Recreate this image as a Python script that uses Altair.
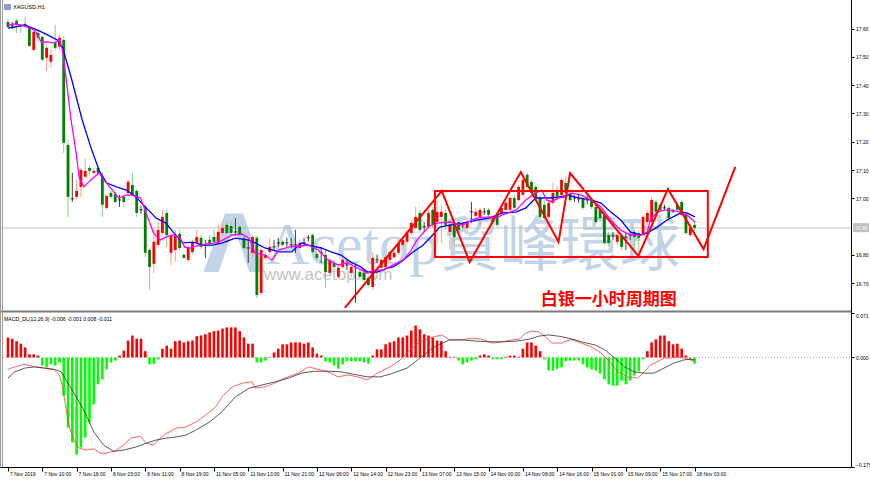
import altair as alt
import pandas as pd
import numpy as np

# ---------------- data ----------------
opens = [17.624, 17.610, 17.628, 17.614, 17.617, 17.603, 17.525, 17.585, 17.571, 17.497,
         17.483, 17.550, 17.536, 17.560, 17.189, 16.998, 17.005, 17.040, 17.076, 17.107,
         17.090, 17.107, 17.076, 16.966, 17.019, 17.015, 16.994, 17.005, 17.019, 17.047,
         17.026, 16.959, 16.969, 16.817, 16.768, 16.835, 16.877, 16.948, 16.807, 16.817,
         16.874, 16.800, 16.782, 16.810, 16.842, 16.860, 16.835, 16.853, 16.863, 16.842,
         16.877, 16.906, 16.902, 16.881, 16.899, 16.860, 16.824, 16.807, 16.860, 16.665,
         16.789, 16.810, 16.828, 16.842, 16.846, 16.842, 16.835, 16.835, 16.824, 16.842,
         16.860, 16.870, 16.803, 16.807, 16.800, 16.736, 16.771, 16.722, 16.757, 16.764,
         16.736, 16.754, 16.739, 16.736, 16.718, 16.686, 16.782, 16.754, 16.757, 16.782,
         16.792, 16.807, 16.835, 16.846, 16.877, 16.895, 16.948, 16.899, 16.899, 16.959,
         16.916, 16.934, 16.948, 16.881, 16.906, 16.916, 16.906, 16.895, 16.952, 16.938,
         16.934, 16.952, 16.959, 16.916, 16.941, 16.948, 16.959, 16.959, 17.001, 16.994,
         17.012, 17.083, 17.058, 17.040, 17.001, 16.977, 16.934, 16.984, 17.030, 17.012,
         17.054, 17.019, 17.001, 16.998, 17.001, 16.994, 16.994, 16.969, 16.959, 16.941,
         16.870, 16.867, 16.846, 16.867, 16.863, 16.870, 16.881, 16.877, 16.870, 16.916,
         16.916, 16.987, 16.977, 16.966, 16.966, 16.955, 16.977, 16.987, 16.941, 16.870,
         16.906]
highs = [17.635, 17.624, 17.635, 17.617, 17.642, 17.606, 17.592, 17.596, 17.575, 17.539,
         17.525, 17.614, 17.578, 17.575, 17.207, 17.090, 17.065, 17.107, 17.139, 17.118,
         17.107, 17.118, 17.093, 17.015, 17.030, 17.022, 17.012, 17.012, 17.065, 17.090,
         17.033, 16.973, 16.977, 16.824, 16.899, 16.916, 16.959, 16.959, 16.881, 16.888,
         16.888, 16.803, 16.831, 16.853, 16.888, 16.870, 16.853, 16.870, 16.888, 16.906,
         16.916, 16.916, 16.916, 16.930, 16.906, 16.867, 16.853, 16.870, 16.867, 16.828,
         16.810, 16.860, 16.853, 16.860, 16.853, 16.860, 16.860, 16.888, 16.853, 16.860,
         16.870, 16.877, 16.810, 16.828, 16.817, 16.789, 16.782, 16.764, 16.792, 16.782,
         16.764, 16.764, 16.746, 16.746, 16.725, 16.810, 16.800, 16.789, 16.800, 16.817,
         16.824, 16.853, 16.863, 16.888, 16.923, 16.969, 16.959, 16.916, 16.959, 16.969,
         16.994, 16.977, 16.959, 16.923, 16.916, 16.923, 16.916, 16.930, 16.987, 16.966,
         16.966, 16.966, 16.966, 16.941, 16.952, 16.977, 16.994, 17.008, 17.012, 17.047,
         17.083, 17.090, 17.065, 17.047, 17.012, 16.994, 16.994, 17.054, 17.044, 17.072,
         17.076, 17.030, 17.012, 17.012, 17.008, 17.008, 17.001, 16.977, 16.966, 16.948,
         16.881, 16.881, 16.881, 16.877, 16.877, 16.881, 16.888, 16.888, 16.941, 16.959,
         17.005, 16.994, 16.984, 16.977, 16.973, 16.962, 16.984, 16.994, 16.952, 16.909,
         16.916]
lows = [17.603, 17.599, 17.585, 17.585, 17.606, 17.536, 17.522, 17.553, 17.486, 17.451,
        17.461, 17.525, 17.525, 17.161, 16.934, 16.987, 16.994, 17.005, 17.072, 17.083,
        17.083, 17.083, 16.934, 16.959, 16.998, 16.984, 16.969, 16.969, 17.012, 17.008,
        16.934, 16.945, 16.792, 16.676, 16.736, 16.824, 16.870, 16.828, 16.764, 16.775,
        16.817, 16.785, 16.775, 16.803, 16.835, 16.821, 16.789, 16.831, 16.838, 16.835,
        16.870, 16.870, 16.870, 16.867, 16.863, 16.817, 16.771, 16.789, 16.647, 16.658,
        16.782, 16.803, 16.817, 16.828, 16.828, 16.828, 16.824, 16.807, 16.817, 16.831,
        16.846, 16.803, 16.782, 16.771, 16.683, 16.729, 16.746, 16.715, 16.750, 16.746,
        16.718, 16.630, 16.715, 16.704, 16.686, 16.676, 16.771, 16.746, 16.750, 16.775,
        16.785, 16.800, 16.828, 16.838, 16.870, 16.888, 16.881, 16.881, 16.892, 16.895,
        16.835, 16.842, 16.888, 16.817, 16.842, 16.881, 16.895, 16.888, 16.913, 16.930,
        16.899, 16.941, 16.934, 16.909, 16.899, 16.941, 16.952, 16.952, 16.959, 16.987,
        17.005, 17.033, 17.012, 16.994, 16.923, 16.923, 16.927, 16.973, 16.994, 17.005,
        17.012, 16.987, 16.987, 16.984, 16.959, 16.980, 16.962, 16.909, 16.916, 16.835,
        16.831, 16.853, 16.835, 16.817, 16.817, 16.853, 16.817, 16.810, 16.863, 16.906,
        16.909, 16.945, 16.952, 16.959, 16.923, 16.948, 16.952, 16.934, 16.870, 16.863,
        16.870]
closes = [17.606, 17.610, 17.614, 17.610, 17.610, 17.539, 17.589, 17.568, 17.490, 17.532,
          17.507, 17.532, 17.568, 17.196, 17.005, 16.998, 17.026, 17.100, 17.097, 17.097,
          17.097, 17.090, 16.977, 17.008, 17.005, 16.987, 16.994, 16.987, 17.058, 17.012,
          16.948, 16.959, 16.807, 16.757, 16.846, 16.888, 16.934, 16.870, 16.870, 16.867,
          16.824, 16.789, 16.824, 16.842, 16.863, 16.828, 16.835, 16.838, 16.846, 16.881,
          16.895, 16.877, 16.877, 16.881, 16.870, 16.824, 16.824, 16.863, 16.658, 16.817,
          16.800, 16.828, 16.828, 16.842, 16.835, 16.842, 16.835, 16.835, 16.842, 16.842,
          16.860, 16.810, 16.789, 16.807, 16.739, 16.782, 16.757, 16.754, 16.782, 16.764,
          16.757, 16.754, 16.722, 16.711, 16.693, 16.789, 16.782, 16.782, 16.792, 16.810,
          16.807, 16.842, 16.853, 16.881, 16.913, 16.934, 16.888, 16.899, 16.948, 16.906,
          16.952, 16.952, 16.906, 16.906, 16.863, 16.888, 16.906, 16.916, 16.952, 16.952,
          16.959, 16.952, 16.941, 16.934, 16.906, 16.966, 16.984, 17.001, 16.966, 17.040,
          17.065, 17.040, 17.019, 17.001, 16.934, 16.930, 16.984, 17.019, 17.005, 17.065,
          17.019, 16.994, 17.001, 16.998, 16.966, 16.994, 16.969, 16.916, 16.930, 16.842,
          16.842, 16.867, 16.870, 16.828, 16.863, 16.870, 16.863, 16.860, 16.934, 16.948,
          16.994, 16.952, 16.959, 16.966, 16.930, 16.955, 16.959, 16.941, 16.877, 16.895,
          16.895]

macd_hist = [0.032, 0.030, 0.026, 0.022, 0.016, 0.005, 0.005, 0.003, -0.013, -0.016,
             -0.011, -0.013, -0.008, -0.061, -0.112, -0.136, -0.155, -0.144, -0.128, -0.104,
             -0.075, -0.043, -0.035, -0.019, -0.008, -0.005, 0.003, 0.011, 0.027, 0.035,
             0.030, 0.030, 0.010, -0.011, -0.010, -0.003, 0.014, 0.019, 0.014, 0.026,
             0.027, 0.024, 0.026, 0.027, 0.034, 0.035, 0.037, 0.040, 0.042, 0.043,
             0.046, 0.048, 0.048, 0.048, 0.042, 0.032, 0.022, 0.022, -0.008, -0.008,
             -0.005, 0.0005, 0.008, 0.014, 0.021, 0.021, 0.024, 0.024, 0.024, 0.022,
             0.024, 0.016, 0.006, 0.003, -0.006, -0.008, -0.013, -0.018, -0.011, -0.006,
             -0.006, -0.006, -0.006, -0.008, -0.010, 0.003, 0.013, 0.013, 0.021, 0.024,
             0.026, 0.032, 0.032, 0.035, 0.043, 0.051, 0.045, 0.037, 0.035, 0.032,
             0.027, 0.026, 0.010, 0.001, 0.001, -0.005, -0.011, -0.008, -0.005, -0.003,
             0.003, 0.005, 0.003, -0.003, -0.003, -0.003, 0.001, 0.003, 0.003, 0.001,
             0.014, 0.024, 0.024, 0.019, 0.010, -0.003, -0.021, -0.021, -0.018, -0.016,
             -0.006, -0.005, -0.005, -0.005, -0.011, -0.016, -0.019, -0.021, -0.026, -0.035,
             -0.043, -0.045, -0.045, -0.037, -0.043, -0.037, -0.029, -0.022, -0.003, 0.010,
             0.024, 0.029, 0.035, 0.035, 0.026, 0.021, 0.022, 0.014, 0.003, -0.003,
             -0.010]

ma_fast_idx = [0, 1.6, 3.2, 5.1, 6.2, 7.8, 9.2, 10.8, 12.0, 12.7, 13.6, 14.7, 15.9, 16.6, 17.7,
               19.3, 21.2, 22.3, 24.0, 25.8, 27.4, 28.8, 30.9, 32.2, 33.9, 35.5, 36.8, 38.5, 40.1,
               41.2, 42.4, 43.8, 46.1, 48.4, 50.0, 52.3, 54.6, 56.2, 57.6, 59.9, 61.5, 63.1, 65.4,
               67.7, 70.0, 72.3, 74.6, 76.9, 79.2, 81.5, 83.8, 85.2, 87.5, 89.8, 92.1, 93.7, 95.3,
               96.7, 98.3, 100.0, 102.9, 105.9, 109.2, 112.2, 113.8, 115.2, 118.4, 120.7, 123.0,
               124.4, 125.5, 126.7, 128.3, 129.9, 131.3, 133.6, 135.9, 138.2, 140.5, 142.8, 145.1,
               147.4, 149.0, 149.7, 151.3, 152.9, 154.3, 156.6, 158.2, 160.1]
ma_fast_val = [17.613, 17.617, 17.613, 17.602, 17.595, 17.553, 17.553, 17.549, 17.560, 17.525,
               17.418, 17.277, 17.160, 17.072, 17.040, 17.065, 17.090, 17.065, 17.036, 17.001,
               17.011, 17.011, 17.001, 16.948, 16.877, 16.852, 16.863, 16.870, 16.859, 16.827,
               16.824, 16.831, 16.838, 16.842, 16.852, 16.870, 16.873, 16.859, 16.806, 16.799,
               16.781, 16.817, 16.827, 16.831, 16.834, 16.817, 16.781, 16.764, 16.771, 16.753,
               16.735, 16.746, 16.746, 16.764, 16.781, 16.810, 16.852, 16.877, 16.902, 16.912,
               16.916, 16.905, 16.930, 16.934, 16.930, 16.941, 16.958, 16.994, 17.019, 17.029,
               16.994, 16.987, 17.001, 17.004, 17.019, 17.011, 16.994, 16.969, 16.923, 16.887,
               16.870, 16.870, 16.881, 16.923, 16.951, 16.958, 16.958, 16.951, 16.941, 16.916]

ma_slow_idx = [0, 1.6, 3.9, 6.9, 9.2, 11.5, 12.7, 14.7, 17.3, 19.3, 21.2, 23.0, 25.3, 27.6, 29.9,
               32.2, 34.5, 36.8, 38.5, 40.8, 43.1, 45.4, 47.7, 50.0, 53.0, 56.2, 57.6, 59.9, 63.1,
               66.1, 68.4, 70.0, 73.0, 75.3, 77.6, 79.9, 82.2, 83.8, 86.1, 88.4, 89.8, 92.1, 94.4,
               96.7, 99.0, 100.6, 102.9, 105.9, 109.2, 112.2, 115.2, 118.4, 120.7, 123.0, 126.0,
               128.3, 130.6, 132.9, 135.9, 138.2, 140.5, 142.8, 145.1, 147.4, 149.0, 151.3, 153.6,
               155.9, 157.1, 158.2, 160.1]
ma_slow_val = [17.602, 17.606, 17.613, 17.595, 17.578, 17.560, 17.535, 17.429, 17.277, 17.181,
               17.100, 17.054, 17.040, 17.029, 17.004, 16.966, 16.930, 16.912, 16.880, 16.842,
               16.845, 16.834, 16.834, 16.842, 16.859, 16.852, 16.842, 16.824, 16.810, 16.810,
               16.842, 16.834, 16.824, 16.810, 16.799, 16.774, 16.757, 16.739, 16.739, 16.753,
               16.757, 16.781, 16.810, 16.834, 16.870, 16.898, 16.905, 16.912, 16.923, 16.930,
               16.948, 16.951, 16.966, 17.001, 17.001, 17.004, 17.011, 17.001, 16.994, 16.983,
               16.951, 16.923, 16.880, 16.870, 16.877, 16.898, 16.923, 16.941, 16.951, 16.948,
               16.934]

macd_line_idx = [0, 1.6, 3.9, 6.2, 8.5, 10.8, 12.0, 12.7, 13.6, 14.3, 15.4, 16.6, 18.2, 20.0,
                 21.6, 23.0, 25.3, 26.9, 28.6, 30.9, 32.2, 33.9, 35.5, 36.8, 39.2, 41.5, 43.8,
                 46.1, 48.4, 50.0, 52.3, 54.6, 56.9, 57.6, 59.9, 62.2, 64.5, 67.7, 70.0, 72.3,
                 74.6, 76.9, 79.2, 81.5, 83.8, 86.1, 89.1, 91.4, 93.7, 96.0, 98.3, 101.1, 102.9,
                 105.9, 108.2, 110.5, 112.9, 115.2, 117.5, 119.1, 120.7, 122.1, 123.7, 125.3,
                 126.7, 129.0, 131.3, 133.6, 135.9, 138.2, 140.3, 142.1, 144.4, 146.7, 148.3,
                 149.7, 151.3, 152.9, 154.3, 155.9, 157.5, 158.7, 159.8]
macd_line_val = [-0.019, -0.015, -0.011, -0.015, -0.017, -0.020, -0.028, -0.047, -0.084, -0.111,
                 -0.132, -0.145, -0.148, -0.146, -0.153, -0.153, -0.148, -0.140, -0.129, -0.126,
                 -0.137, -0.140, -0.129, -0.122, -0.113, -0.111, -0.103, -0.092, -0.079, -0.062,
                 -0.047, -0.041, -0.039, -0.049, -0.047, -0.041, -0.033, -0.025, -0.015, -0.019,
                 -0.023, -0.031, -0.028, -0.031, -0.036, -0.025, -0.015, -0.004, 0.012, 0.025,
                 0.031, 0.036, 0.028, 0.028, 0.031, 0.029, 0.023, 0.025, 0.028, 0.029,
                 0.039, 0.042, 0.041, 0.033, 0.023, 0.023, 0.029, 0.023, 0.017, 0.007,
                 -0.007, -0.023, -0.031, -0.033, -0.023, -0.012, -0.007, -0.001, -0.001, 0.001,
                 -0.001, -0.003, -0.006]

signal_idx = [0, 1.6, 3.9, 6.2, 8.5, 10.8, 12.4, 13.8, 15.4, 17.7, 20.0, 22.3, 24.6, 26.9, 29.9,
              32.2, 34.5, 36.8, 39.2, 41.5, 43.8, 47.0, 50.0, 53.0, 56.2, 59.2, 62.2, 65.4, 68.4,
              71.4, 74.6, 77.6, 80.6, 83.8, 86.8, 89.8, 93.0, 96.0, 99.0, 100.6, 102.9, 105.9,
              109.2, 112.2, 115.2, 118.4, 121.4, 123.7, 126.0, 128.3, 130.6, 133.6, 136.8, 139.1,
              141.4, 143.7, 146.0, 148.3, 150.6, 152.9, 155.2, 157.5, 158.9, 160.1]
signal_val = [-0.033, -0.023, -0.017, -0.015, -0.017, -0.019, -0.023, -0.039, -0.057, -0.084,
              -0.119, -0.140, -0.150, -0.148, -0.143, -0.137, -0.132, -0.129, -0.127, -0.124,
              -0.116, -0.103, -0.086, -0.063, -0.049, -0.044, -0.039, -0.033, -0.025, -0.022,
              -0.022, -0.023, -0.027, -0.031, -0.031, -0.025, -0.017, -0.001, 0.015, 0.021,
              0.028, 0.028, 0.026, 0.025, 0.025, 0.026, 0.029, 0.034, 0.036, 0.034,
              0.031, 0.025, 0.020, 0.012, -0.001, -0.015, -0.023, -0.025, -0.025, -0.017,
              -0.009, -0.004, -0.003, -0.004]

x_tick_idx = list(range(0, 161, 8))
x_tick_labels = ["7 Nov 2019", "7 Nov 10:00", "7 Nov 18:00", "8 Nov 03:00", "8 Nov 11:00",
                 "8 Nov 19:00", "11 Nov 05:00", "11 Nov 13:00", "11 Nov 21:00", "12 Nov 06:00",
                 "12 Nov 14:00", "12 Nov 23:00", "13 Nov 07:00", "13 Nov 15:00", "14 Nov 00:00",
                 "14 Nov 08:00", "14 Nov 16:00", "15 Nov 01:00", "15 Nov 09:00", "15 Nov 17:00",
                 "18 Nov 03:00"]
price_ticks = [16.7, 16.8, 17.0, 17.1, 17.2, 17.3, 17.4, 17.5, 17.6]
macd_ticks = [-0.175, 0.0, 0.071]
current_price = [16.895]
current_box = [16.880, 16.912]

zigzag_idx = [78.5, 101.1, 107.6, 119.5, 128.3, 131.0, 146.9, 153.8, 162.1, 169.5]
zigzag_price = [16.612, 17.026, 16.774, 17.093, 16.845, 17.089, 16.796, 17.033, 16.820, 17.111]
box_idx = [99.5, 163.1]
box_price = [16.792, 17.026]
note_text = ["白银一小时周期图"]
note_idx = [140.0]
note_price = [16.64]

symbol_title = "XAGUSD,H1"
macd_title = "MACD_DL(12,26,9) -0.006 -0.001 0.008 -0.011"

# ---------------- scales ----------------
W, H = 851, 467
XS = alt.Scale(domain=[-0.69, 195.3], range=[0, W], nice=False, zero=False)
PY = alt.Scale(domain=[16.60, 17.70], range=[311.3, 0.44], nice=False, zero=False)
MY = alt.Scale(domain=[-0.175, 0.071], range=[467, 313], nice=False, zero=False)

FONT = "Liberation Sans"
lab_js = "[" + ",".join("'" + s + "'" for s in x_tick_labels) + "]"
idx_js = "[" + ",".join(str(v) for v in x_tick_idx) + "]"
x_axis = alt.Axis(values=x_tick_idx, labelExpr=lab_js + "[indexof(" + idx_js + ", datum.value)]",
                  labelAlign="left", labelBaseline="top", labelOffset=1.5, labelPadding=0.5,
                  tickSize=4, tickColor="#000000", domainColor="#000000", grid=False,
                  labelFontSize=5, labelFont=FONT, labelColor="#000000", title=None,
                  labelOverlap=False, labelBound=False, labelFlush=False)


def X(field):
    return alt.X(field, type="quantitative", scale=XS, axis=x_axis)


main_axis = alt.Axis(orient="right", values=price_ticks, format=".2f", domain=False, grid=False,
                     tickSize=3, tickColor="#000000", labelPadding=1.5, labelFontSize=5,
                     labelFont=FONT, labelColor="#000000", title=None)
macd_axis = alt.Axis(orient="right", values=macd_ticks, format=".3f", domain=False, grid=False,
                     tickSize=3, tickColor="#000000", labelPadding=1.5, labelFontSize=5,
                     labelFont=FONT, labelColor="#000000", title=None, labelFlush=True)

n = len(closes)
df = pd.DataFrame({"i": np.arange(n), "o": opens[:n], "h": highs[:n], "l": lows[:n], "c": closes[:n]})
df["dir"] = np.where(df.c > df.o, "up", np.where(df.c < df.o, "down", "doji"))

hist = pd.DataFrame({"i": np.arange(len(macd_hist)), "v": macd_hist, "z": 0.0})
hist["dir"] = np.where(hist.v >= 0, "pos", "neg")

one = pd.DataFrame({"a": [0]})
WM = "#c2d4e7"

# ---------------- layers ----------------
wm_logo = alt.Chart(one).mark_text(text="Λ", font="DejaVu Sans", fontWeight="bold", fontSize=80,
                                   color=WM, align="center", baseline="alphabetic").encode(
    x=alt.value(234), y=alt.value(272))
wm_latin = alt.Chart(one).mark_text(text="Acetop", font="Liberation Serif", fontSize=60,
                                    color=WM, align="left", baseline="alphabetic").encode(
    x=alt.value(266), y=alt.value(264))
wm_cjk = alt.Chart(one).mark_text(text="貿峰環球", font="Noto Sans CJK TC", fontSize=60,
                                  color=WM, align="left", baseline="alphabetic").encode(
    x=alt.value(440), y=alt.value(266))
wm_url = alt.Chart(one).mark_text(text="www.acetop.com", font=FONT, fontSize=17,
                                  color="#c4c4c4", align="left", baseline="alphabetic").encode(
    x=alt.value(264), y=alt.value(280))

price_line = alt.Chart(pd.DataFrame({"p": current_price})).mark_rule(
    color="#c0c0c0", strokeWidth=1).encode(
    x=alt.value(0), x2=alt.value(W), y=alt.Y("p:Q", scale=PY, axis=None))

wicks = alt.Chart(df).mark_rule(strokeWidth=1).encode(
    x=X("i"), y=alt.Y("l:Q", scale=PY, axis=main_axis), y2="h:Q",
    color=alt.Color("dir:N", scale=alt.Scale(domain=["up", "down", "doji"],
                                             range=["#ff9f8c", "#8ccc8c", "#404040"]), legend=None))
bodies = alt.Chart(df).transform_filter("datum.dir != 'doji'").mark_bar(size=2.8).encode(
    x=X("i"), y=alt.Y("o:Q", scale=PY, axis=None), y2="c:Q",
    color=alt.Color("dir:N", scale=alt.Scale(domain=["up", "down"],
                                             range=["#ff0000", "#008000"]), legend=None))
dojis = alt.Chart(df).transform_filter("datum.dir == 'doji'").mark_tick(
    orient="horizontal", size=3.5, thickness=1, color="#000000").encode(
    x=X("i"), y=alt.Y("o:Q", scale=PY, axis=None))

ma_slow = alt.Chart(pd.DataFrame({"i": ma_slow_idx, "v": ma_slow_val})).mark_line(
    color="#0000ff", strokeWidth=1.3).encode(x=X("i"), y=alt.Y("v:Q", scale=PY, axis=None))
ma_fast = alt.Chart(pd.DataFrame({"i": ma_fast_idx, "v": ma_fast_val})).mark_line(
    color="#ff00ff", strokeWidth=1.3).encode(x=X("i"), y=alt.Y("v:Q", scale=PY, axis=None))

zz = pd.DataFrame({"i": zigzag_idx, "p": zigzag_price, "k": np.arange(len(zigzag_idx))})
zigzag = alt.Chart(zz).mark_line(color="#ff0000", strokeWidth=2).encode(
    x=X("i"), y=alt.Y("p:Q", scale=PY, axis=None), order="k:Q")
box = alt.Chart(pd.DataFrame({"x1": [box_idx[0]], "x2": [box_idx[1]],
                              "y1": [box_price[0]], "y2": [box_price[1]]})).mark_rect(
    fillOpacity=0, stroke="#ff0000", strokeWidth=2).encode(
    x=X("x1"), x2="x2:Q", y=alt.Y("y1:Q", scale=PY, axis=None), y2="y2:Q")
note = alt.Chart(pd.DataFrame({"i": note_idx, "p": note_price, "t": note_text})).mark_text(
    font="Noto Sans CJK SC", fontWeight="bold", fontSize=17, color="#ff0000",
    align="center", baseline="middle").encode(
    x=X("i"), y=alt.Y("p:Q", scale=PY, axis=None), text="t:N")

price_box = alt.Chart(pd.DataFrame({"a": [current_box[0]], "b": [current_box[1]]})).mark_rect(
    color="#c0c0c0").encode(x=alt.value(853), x2=alt.value(869),
                            y=alt.Y("a:Q", scale=PY, axis=None), y2="b:Q")
price_box_t = alt.Chart(pd.DataFrame({"p": current_price, "t": ["16.89"]})).mark_text(
    font=FONT, fontSize=5, color="#f4f4f4", align="left", baseline="middle").encode(
    x=alt.value(855), y=alt.Y("p:Q", scale=PY, axis=None), text="t:N")

zero_line = alt.Chart(pd.DataFrame({"v": [0.0]})).mark_rule(
    color="#a8a8a8", strokeWidth=1, strokeDash=[1, 2]).encode(
    x=alt.value(0), x2=alt.value(W), y=alt.Y("v:Q", scale=MY, axis=None))
hbars = alt.Chart(hist).mark_bar(size=2.6).encode(
    x=X("i"), y=alt.Y("v:Q", scale=MY, axis=macd_axis), y2="z:Q",
    color=alt.Color("dir:N", scale=alt.Scale(domain=["pos", "neg"],
                                             range=["#ff0000", "#00ff00"]), legend=None))
macd_l = alt.Chart(pd.DataFrame({"i": macd_line_idx, "v": macd_line_val})).mark_line(
    color="#ff3c3c", strokeWidth=0.8).encode(x=X("i"), y=alt.Y("v:Q", scale=MY, axis=None))
signal_l = alt.Chart(pd.DataFrame({"i": signal_idx, "v": signal_val})).mark_line(
    color="#303030", strokeWidth=0.8).encode(x=X("i"), y=alt.Y("v:Q", scale=MY, axis=None))

sep = alt.Chart(one).mark_rule(color="#7a7a7a", strokeWidth=2).encode(
    x=alt.value(0), x2=alt.value(W), y=alt.value(311.5))
right_line = alt.Chart(one).mark_rule(color="#000000", strokeWidth=1).encode(
    x=alt.value(W + 0.5), y=alt.value(0), y2=alt.value(H))
left_a = alt.Chart(one).mark_rule(color="#9a9a9a", strokeWidth=1).encode(
    x=alt.value(0.5), y=alt.value(0), y2=alt.value(H))
left_b = alt.Chart(one).mark_rule(color="#9a9a9a", strokeWidth=1).encode(
    x=alt.value(2.5), y=alt.value(0), y2=alt.value(H))

t_sym = alt.Chart(one).mark_text(text=symbol_title, font=FONT, fontSize=5.5, color="#000000",
                                 align="left", baseline="middle").encode(
    x=alt.value(13), y=alt.value(7))
icon = alt.Chart(one).mark_rect(color="#8aa0c8").encode(
    x=alt.value(4), x2=alt.value(11), y=alt.value(4), y2=alt.value(10))
t_macd = alt.Chart(one).mark_text(text=macd_title, font=FONT, fontSize=5.2, color="#000000",
                                  align="left", baseline="middle").encode(
    x=alt.value(4), y=alt.value(318.5))

chart = alt.layer(
    wm_logo, wm_latin, wm_cjk, wm_url, price_line,
    wicks, bodies, dojis, ma_slow, ma_fast, zigzag, box, note, price_box, price_box_t,
    zero_line, hbars, macd_l, signal_l,
    sep, right_line, left_a, left_b, icon, t_sym, t_macd
).resolve_scale(y="independent", color="independent").properties(
    width=W, height=H,
    autosize=alt.AutoSizeParams(type="none"),
    padding={"left": 0, "top": 0, "right": 19, "bottom": 15},
    background="#ffffff"
).configure_view(stroke=None)

chart.save("out.html", embed_options={"renderer": "svg", "actions": False})
